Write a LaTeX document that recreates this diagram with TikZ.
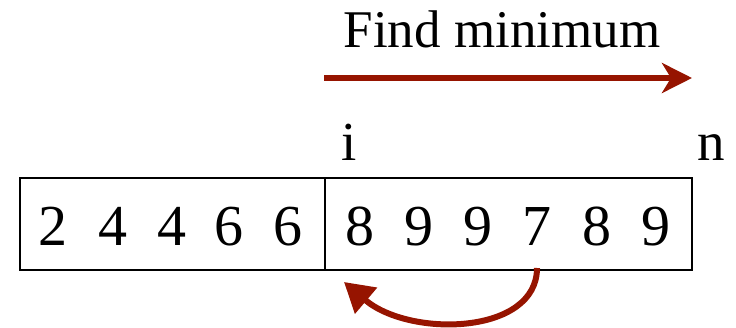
\documentclass[tikz,border=0pt]{standalone}
\usepackage{fontspec}
\setmainfont{Liberation Serif}
\usetikzlibrary{arrows.meta}
\definecolor{arr}{RGB}{150,20,0}
\begin{document}
\begin{tikzpicture}[x=1pt,y=-1pt,
  digit/.style={anchor=base,inner sep=0pt,font=\fontsize{58}{60}\selectfont},
  lbl/.style={anchor=base,inner sep=0pt,font=\fontsize{55}{58}\selectfont},
  ttl/.style={anchor=base,inner sep=0pt,font=\fontsize{53}{56}\selectfont},
  arrline/.style={draw=arr,line width=6.5pt,-{Stealth[length=30pt,width=30pt,inset=9pt]}},
  curvearr/.style={draw=arr,line width=6pt,-{Triangle[length=29pt,width=33pt]}},
  cell/.style={draw,line width=2pt,inner sep=0pt}]
\useasboundingbox (0,0) rectangle (736,328);
\node[cell,minimum width=305pt,minimum height=92pt] (left) at (172.5,224) {};
\node[cell,minimum width=367pt,minimum height=92pt] (right) at (508.5,224) {};
\foreach \d/\x [count=\k] in {2/53,4/113,4/172,6/229,6/288,8/360,9/419,9/478,7/537,8/597,9/656}
  \node[digit] (d\k) at (\x,246) {\d};
\node[lbl] (ti) at (349,161) {i};
\node[lbl] (tn) at (711,161) {n};
\node[ttl] (title) at (502,48) {Find minimum};
\coordinate (a0) at (324,78);
\coordinate (a1) at (692,78);
\draw[arrline] (a0) -- (a1);
\coordinate (c0) at (537,268);
\coordinate (c1) at (344,282);
\draw[curvearr] (c0) .. controls (537,335) and (410,338) .. (c1);
\end{tikzpicture}
\end{document}
